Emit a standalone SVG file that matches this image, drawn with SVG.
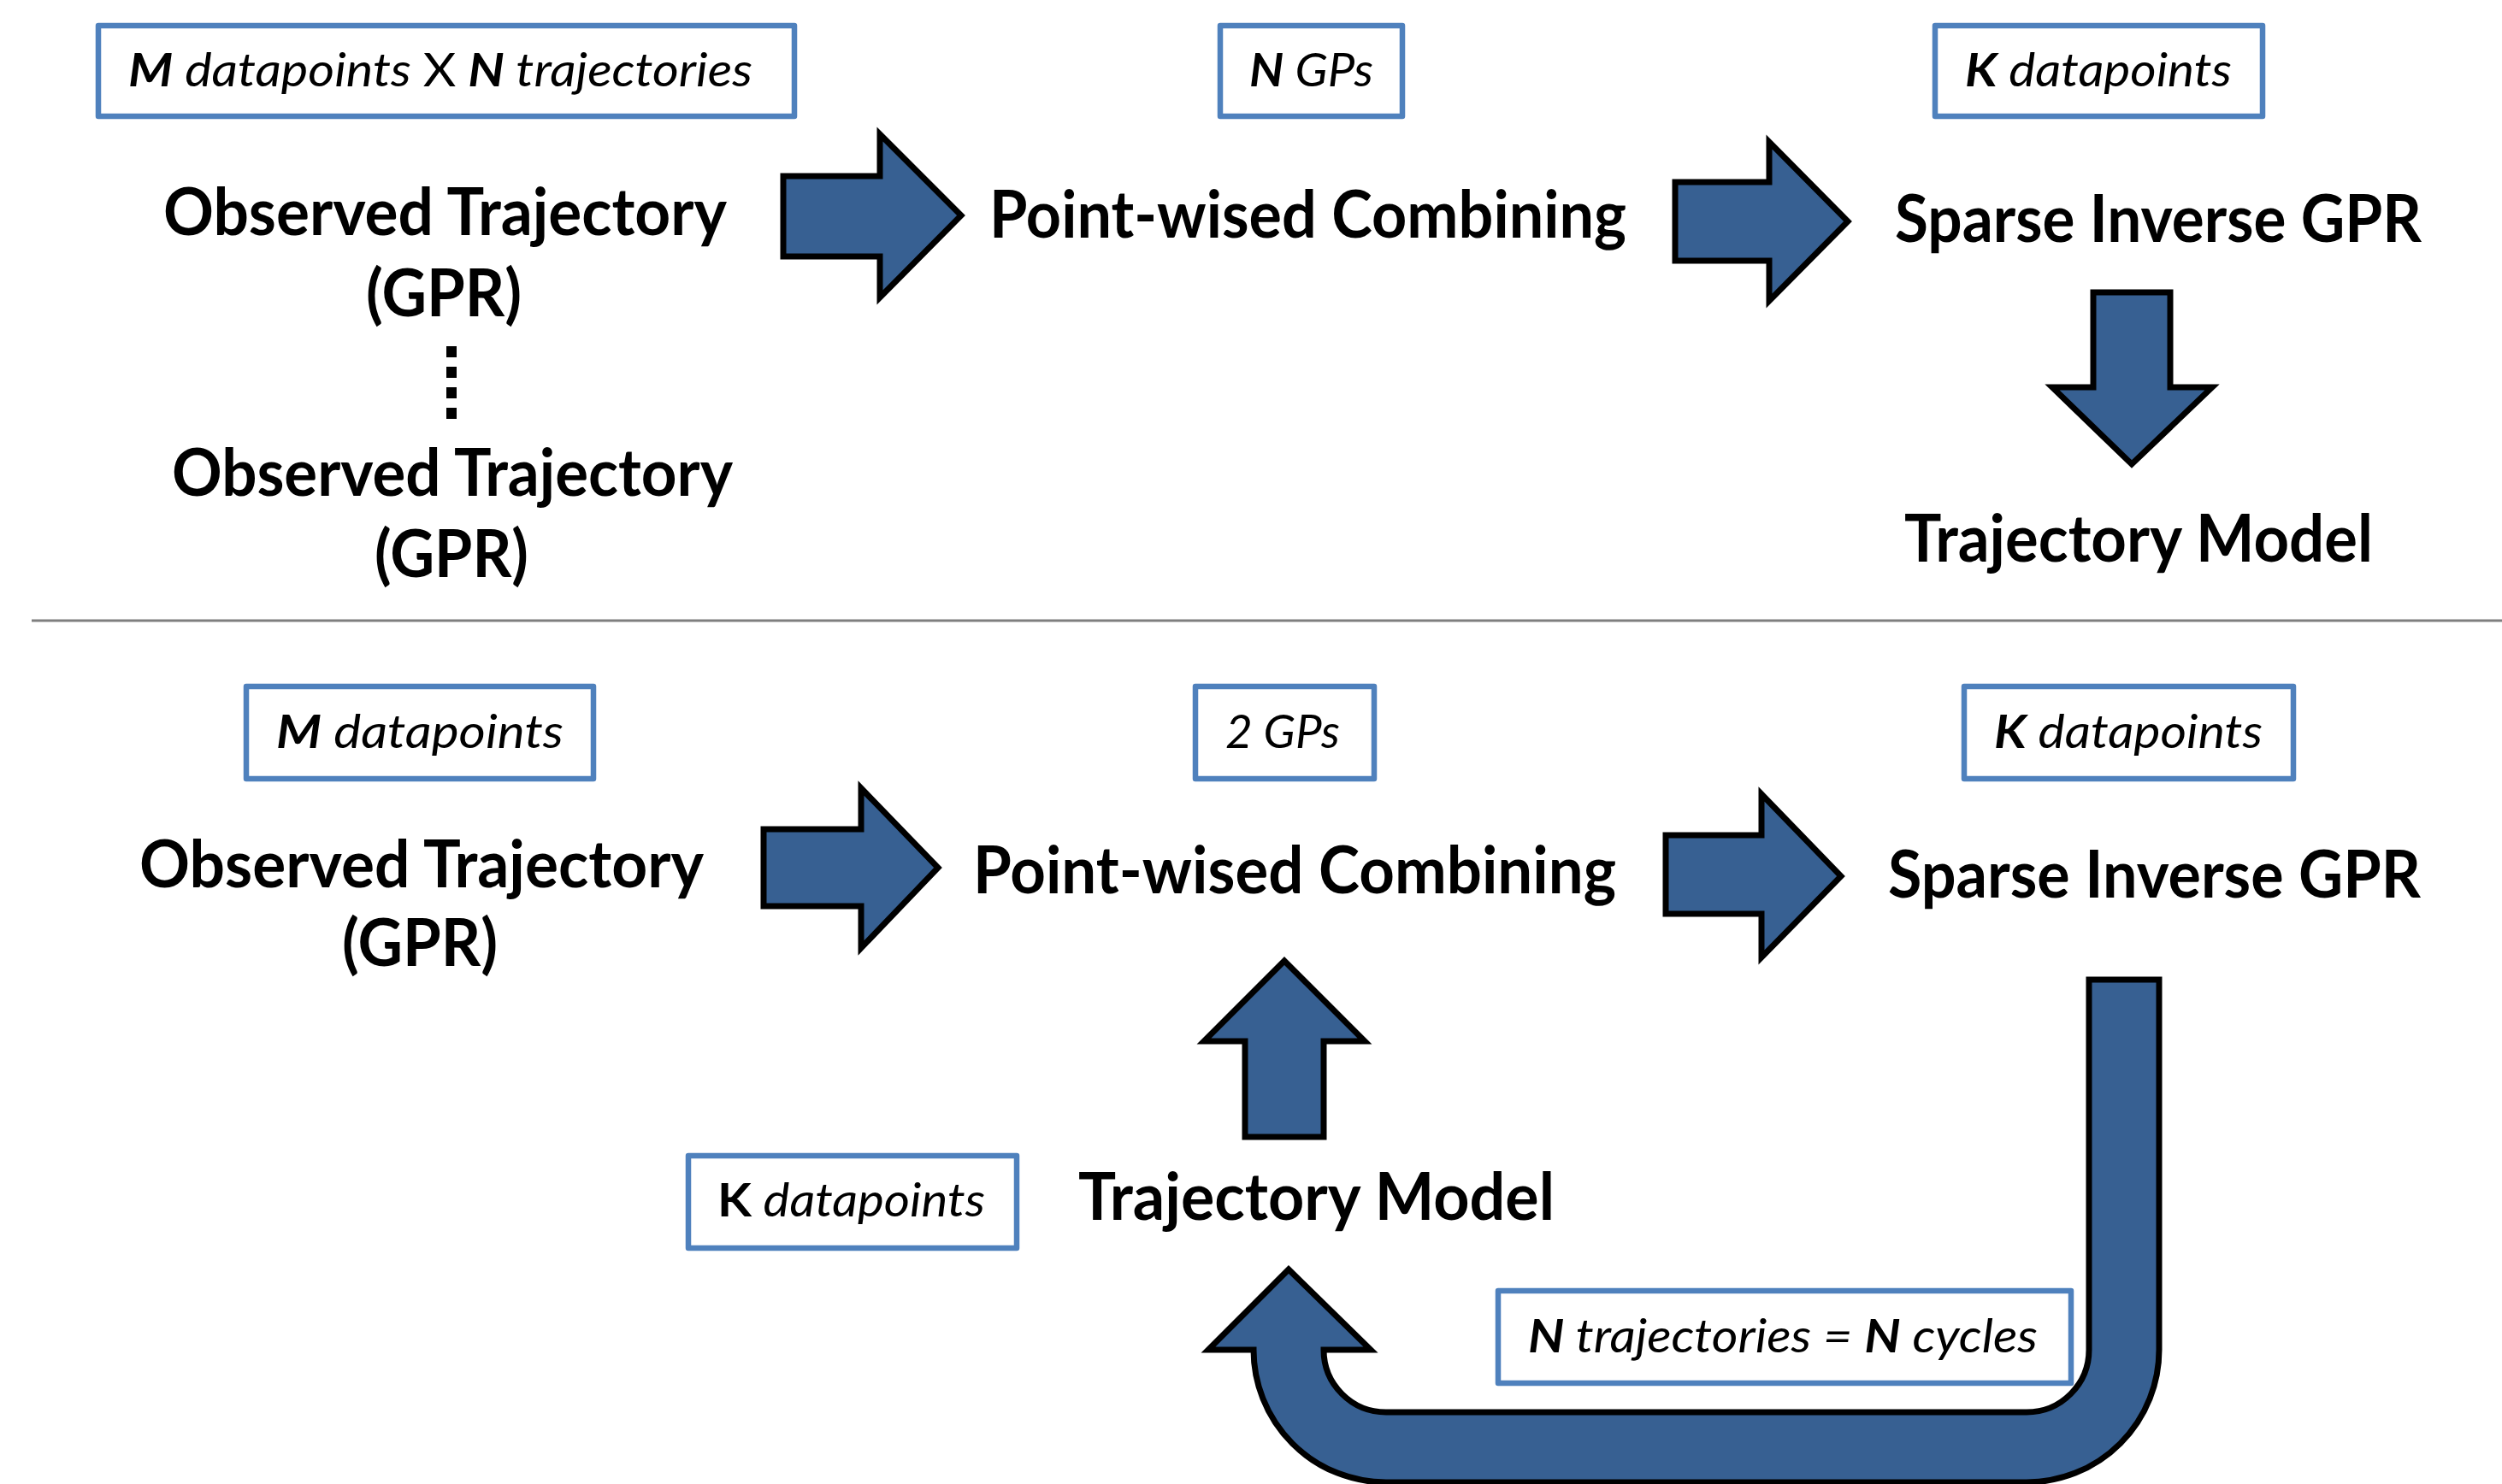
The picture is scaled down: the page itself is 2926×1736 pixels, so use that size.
<svg xmlns="http://www.w3.org/2000/svg" width="2926" height="1736" viewBox="0 0 2926 1736">
<style>
.bg{fill:#ffffff}
.box{fill:#ffffff;stroke:#4f81bd;stroke-width:6.5;stroke-linejoin:round}
.lbl{font-family:Lato,"Open Sans","Liberation Sans",sans-serif;font-style:italic;font-size:54px;fill:#000000}
.lbl .b{font-weight:bold}
.lbl .u{font-style:normal}
.main{font-family:Lato,"Open Sans","Liberation Sans",sans-serif;font-weight:bold;font-size:77px;fill:#000000}
.arrow{fill:#376092;stroke:#000000;stroke-width:7;stroke-linejoin:miter}
.sep{stroke:#7f7f7f;stroke-width:3}
.dots{stroke:#000000;stroke-width:12;stroke-dasharray:13 11}
</style>
<rect class="bg" x="0" y="0" width="2926" height="1736"/>

<line id="separator" class="sep" x1="37" y1="726" x2="2926" y2="726"/>

<g id="connectors">
  <polygon id="arrow-top-1" class="arrow" points="916,206 1029,206 1029,157 1124,252 1029,348 1029,300 916,300"/>
  <polygon id="arrow-top-2" class="arrow" points="1959,213 2069,213 2069,166 2161,259 2069,352 2069,305 1959,305"/>
  <polygon id="arrow-top-down" class="arrow" points="2448,342 2538,342 2538,453 2587,453 2493,543 2400,453 2448,453"/>
  <polygon id="arrow-bot-1" class="arrow" points="893,970 1007,970 1007,922 1097,1015 1007,1109 1007,1060 893,1060"/>
  <polygon id="arrow-bot-2" class="arrow" points="1948,977 2060,977 2060,929 2153,1025 2060,1120 2060,1069 1948,1069"/>
  <polygon id="arrow-bot-up" class="arrow" points="1502,1124 1596,1218 1548,1218 1548,1330 1456,1330 1456,1218 1408,1218"/>
  <path id="arrow-feedback" class="arrow" d="M 2443,1146 L 2525,1146 L 2525,1579 A 155 155 0 0 1 2370,1734 L 1621,1734 A 155 155 0 0 1 1466,1579 L 1413,1579 L 1507,1485 L 1603,1579 L 1548,1579 A 73 73 0 0 0 1621,1652 L 2370,1652 A 73 73 0 0 0 2443,1579 Z"/>
  <line id="dots" class="dots" x1="528" y1="405" x2="528" y2="491"/>
</g>

<!-- Top section -->
<g id="label-m-n">
  <rect class="box" x="115" y="30" width="814" height="106"/>
  <text class="lbl" x="150" y="101" textLength="730" lengthAdjust="spacingAndGlyphs"><tspan class="b">M</tspan> datapoints <tspan class="u">X</tspan> <tspan class="b">N</tspan> trajectories</text>
</g>
<g id="label-n-gps">
  <rect class="box" x="1427" y="30" width="213" height="106"/>
  <text class="lbl" x="1461" y="101" textLength="145" lengthAdjust="spacingAndGlyphs"><tspan class="b">N</tspan> GPs</text>
</g>
<g id="label-k-top">
  <rect class="box" x="2263" y="30" width="383" height="106"/>
  <text class="lbl" x="2298" y="101" textLength="312" lengthAdjust="spacingAndGlyphs"><tspan class="b">K</tspan> datapoints</text>
</g>
<g id="obs-top-1">
  <text class="main" x="191" y="275" textLength="659" lengthAdjust="spacingAndGlyphs">Observed Trajectory</text>
  <text class="main" x="428" y="370" textLength="182" lengthAdjust="spacingAndGlyphs">(GPR)</text>
</g>
<g id="obs-top-2">
  <text class="main" x="201" y="580" textLength="656" lengthAdjust="spacingAndGlyphs">Observed Trajectory</text>
  <text class="main" x="438" y="675" textLength="180" lengthAdjust="spacingAndGlyphs">(GPR)</text>
</g>
<g id="combine-top">
  <text class="main" x="1157" y="278" textLength="745" lengthAdjust="spacingAndGlyphs">Point-wised Combining</text>
</g>
<g id="sparse-top">
  <text class="main" x="2216" y="283" textLength="616" lengthAdjust="spacingAndGlyphs">Sparse Inverse GPR</text>
</g>
<g id="model-top">
  <text class="main" x="2227" y="657" textLength="548" lengthAdjust="spacingAndGlyphs">Trajectory Model</text>
</g>

<!-- Bottom section -->
<g id="label-m-bot">
  <rect class="box" x="288" y="803" width="406" height="108"/>
  <text class="lbl" x="323" y="875" textLength="336" lengthAdjust="spacingAndGlyphs"><tspan class="b">M</tspan> datapoints</text>
</g>
<g id="label-2gps">
  <rect class="box" x="1398" y="803" width="209" height="108"/>
  <text class="lbl" x="1433" y="875" textLength="134" lengthAdjust="spacingAndGlyphs">2 GPs</text>
</g>
<g id="label-k-bot-right">
  <rect class="box" x="2297" y="803" width="385" height="108"/>
  <text class="lbl" x="2332" y="875" textLength="314" lengthAdjust="spacingAndGlyphs"><tspan class="b">K</tspan> datapoints</text>
</g>
<g id="obs-bot">
  <text class="main" x="163" y="1038" textLength="660" lengthAdjust="spacingAndGlyphs">Observed Trajectory</text>
  <text class="main" x="400" y="1130" textLength="182" lengthAdjust="spacingAndGlyphs">(GPR)</text>
</g>
<g id="combine-bot">
  <text class="main" x="1138" y="1045" textLength="752" lengthAdjust="spacingAndGlyphs">Point-wised Combining</text>
</g>
<g id="sparse-bot">
  <text class="main" x="2208" y="1050" textLength="623" lengthAdjust="spacingAndGlyphs">Sparse Inverse GPR</text>
</g>
<g id="label-k-bot-left">
  <rect class="box" x="805" y="1352" width="384" height="108"/>
  <text class="lbl" x="839" y="1423" textLength="313" lengthAdjust="spacingAndGlyphs"><tspan class="u b">K</tspan> datapoints</text>
</g>
<g id="model-bot">
  <text class="main" x="1261" y="1427" textLength="557" lengthAdjust="spacingAndGlyphs">Trajectory Model</text>
</g>
<g id="label-cycles">
  <rect class="box" x="1752" y="1510" width="670" height="108"/>
  <text class="lbl" x="1787" y="1582" textLength="596" lengthAdjust="spacingAndGlyphs"><tspan class="b">N</tspan> trajectories = <tspan class="b">N</tspan> cycles</text>
</g>
</svg>
